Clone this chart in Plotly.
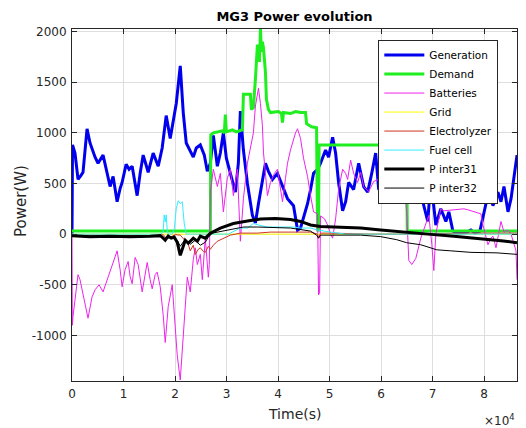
import plotly.graph_objects as go

# ---------------- data (time in s, power in W) ----------------
gen_t = [0, 100, 580, 1170, 1750, 2140, 2920, 3500, 4480, 5060, 6030, 6620, 7400, 7980, 8760, 9340,
         9730, 10510, 11090, 11680, 12650, 13230, 13820, 14400, 14790, 15760, 16350, 16740, 17510,
         18290, 19070, 19650, 20240, 21020, 21600, 22180, 22960, 23550, 24130, 24910, 25690, 26270,
         26860, 27440, 28220, 28800, 29390, 29970, 30750, 31720, 32300, 32690, 33280, 34060, 35030,
         35610, 36200, 36970, 37560, 38140, 38920, 39890, 40870, 41840, 43010, 43790, 44370, 45150,
         45730, 46320, 46900, 47680, 48260, 49230, 49820, 50600, 51180, 51760, 52540, 53130, 53710,
         54680, 55660, 56630, 57410, 58190, 58960, 59550, 60520, 61490, 62470, 63440, 64410, 65190,
         66160, 67140, 68110, 69080, 69670, 70640, 71610, 72590, 73170, 73950, 74730, 76480, 77450,
         78230, 79200, 79790, 80370, 80950, 81730, 82710, 83290, 83870, 84650, 85240, 85820, 86400]
gen_p = [0, 880, 800, 540, 580, 610, 1040, 900, 760, 700, 780, 650, 470, 570, 320, 450,
         510, 690, 640, 670, 380, 600, 780, 680, 610, 800, 720, 670, 850,
         1170, 945, 1100, 1290, 1660, 1200, 900, 820, 760, 850, 880, 780, 620,
         700, 975, 670, 800, 1000, 750, 600, 415, 700, 1215, 830, 500, 185,
         110, 300, 550, 700, 620, 540, 600, 470, 350, 280, 40, 60, 200,
         300, 440, 600, 640, 700, 830, 760, 955, 800, 510, 230, 320, 510,
         440, 700, 470, 415, 600, 800, 440, 500, 380, 415, 365, 380, 510,
         415, 320, 320, 125, 540, 90, 250, 125, 220, 30, 10, 15, 40,
         10, 30, 185, 300, 440, 280, 415, 320, 470, 220, 350, 570, 780]

dem_t = [0, 26860, 26950, 27440, 28410, 29190, 29580, 29770, 29970, 31140, 31910, 33080, 33280,
         34640, 34830, 35220, 35610, 36000, 36390, 36590, 36780, 36970, 37170, 37560, 37750, 38140,
         38530, 40090, 40670, 40870, 41060, 42420, 43400, 44370, 45340, 45540, 46510, 47480, 47680,
         47870, 47970, 65000, 65090, 86400]
dem_p = [30, 30, 980, 1000, 1010, 1020, 1000, 1180, 1010, 1030, 1010, 1030, 1380,
         1380, 1230, 1250, 1530, 1870, 1700, 2025, 1800, 1900, 1840, 1600, 1330, 1230,
         1200, 1210, 1190, 1100, 1200, 1190, 1210, 1200, 1200, 1090, 1060, 1050, 40,
         40, 880, 880, 30, 30]

bat_t = [0, 60, 195, 580, 1170, 1560, 2340, 3110, 3890, 4480, 5250, 6030, 7010, 7980, 8760, 9340,
         9730, 10310, 10900, 11290, 11680, 12260, 12840, 13620, 14600, 15180, 15570, 16150, 16540,
         17130, 17710, 18100, 18680, 19460, 20040, 20430, 21020, 21600, 22380, 22960, 23550, 23940,
         24330, 24910, 25300, 25880, 26470, 26660, 26860, 27440, 28220, 28800, 29390, 30160, 30750,
         31330, 32110, 32690, 33280, 34060, 34640, 35220, 35610, 36200, 36590, 36970, 37170, 37560,
         37950, 38530, 39310, 39890, 40480, 40870, 41450, 41840, 42420, 43010, 43400, 43790, 44370,
         44950, 45730, 46320, 46900, 47680, 47870, 48070, 48260, 49040, 49620, 50210, 50600, 51180,
         51760, 52540, 53130, 53520, 54100, 54680, 55460, 56050, 56630, 57600, 58580, 59550, 60520,
         61880, 62860, 63830, 64610, 65000, 65390, 65970, 66750, 67720, 68690, 69280, 69860, 70250,
         70640, 71030, 71610, 72200, 74140, 76090, 76870, 78420, 79400, 79790, 80760, 81340, 81730,
         82320, 83290, 83870, 84650, 85240, 86210, 86400]
bat_p = [0, -900, -810, -650, -400, -450, -650, -830, -620, -550, -500, -570, -425, -280, -165, -350,
         -520, -350, -270, -420, -490, -230, -300, -570, -280, -450, -540, -400, -375,
         -520, -800, -1070, -715, -500, -975, -1195, -1440, -975, -425, -570, -250, -135,
         -300, -200, -450, -40, -425, -300, 415, 640, 470, 600, 220, 550, 640,
         380, 640, -70, 350, 700, 850, 1000, 1265, 1440, 1290, 1070, 810, 600,
         380, 510, 600, 640, 450, 320, 550, 700, 830, 950, 1000, 1040, 945,
         750, 570, 380, 220, 200, -600, -580, 180, 150, 90, 0, -40, 150,
         440, 640, 600, 540, 730, 600, 510, 610, 470, 420, 520, 540, 560,
         600, 520, 540, 440, 200, -260, -300, -240, -40, 105, 185, -100, -360,
         0, 90, 250, 230, 240, 250, 240, 220, 200, 90, -105, -40, -20,
         -135, 125, 20, 40, 0, -165, -450]

grid_t = [0, 86400]
grid_p = [0, 0]

ely_t = [0, 5450, 11290, 17130, 17710, 18290, 19070, 20040, 21020, 21990, 22570, 22960, 23550,
         23940, 24520, 24910, 25490, 25880, 26470, 26860, 27440, 28220, 29390, 30750, 32690, 36000,
         38530, 46320, 47680, 47870, 48260, 50210, 57990, 67720, 75500, 86400]
ely_p = [-10, -10, -15, -15, -5, -40, -30, -5, -10, -60, -100, -165, -110,
         -200, -150, -135, -170, -180, -120, -150, -110, -70, -40, -10, 10, 10,
         20, 20, 0, -40, 10, 10, 0, 0, 10, 10]

fc_t = [0, 17320, 17710, 17900, 18100, 18290, 18490, 18680, 19460, 19850, 20240, 20630, 21020,
        21410, 21800, 22180, 30360, 31720, 32690, 34060, 35220, 36200, 37950, 43010, 44370, 46320,
        47680, 50210, 53130, 86400]
fc_p = [0, 0, 30, 190, 120, 190, 40, 0, 0, 50, 250, 330, 300,
        320, 100, 0, 0, 40, 60, 60, 105, 90, 70, 70, 60, 60,
        40, 20, 0, 0]

p31_t = [0, 3500, 7400, 11290, 15180, 17130, 17710, 18100, 18680, 19270, 19850, 20430, 21020,
         21410, 21990, 22570, 23550, 24330, 24910, 25880, 26860, 28800, 31330, 34060, 36590, 39500,
         42420, 44370, 46320, 48260, 52740, 56050, 59940, 65190, 69080, 74140, 78810, 83290, 86400]
p31_p = [-15, -25, -20, -25, -20, -15, -40, -60, -20, -40, -30, -80, -210,
         -150, -60, -90, -40, -70, -20, -40, 10, 60, 105, 130, 150, 155,
         145, 125, 90, 75, 70, 60, 40, 15, 0, -20, -40, -65, -85]

p32_t = [0, 17130, 18100, 19070, 20430, 21020, 21990, 22960, 23940, 24910, 25880, 26470, 27250,
         30160, 33280, 36000, 42420, 46320, 47480, 47870, 48260, 56050, 59940, 63050, 65000, 67720,
         70830, 73560, 77450, 82510, 86400]
p32_p = [-20, -20, -50, -30, -60, -120, -50, -100, -60, -110, -80, -30, 10,
         40, 70, 70, 60, 30, -10, -40, -10, -10, -25, -55, -85, -105,
         -155, -165, -180, -185, -200]

x_ticks = [0, 10000, 20000, 30000, 40000, 50000, 60000, 70000, 80000]
x_tick_labels = ["0", "1", "2", "3", "4", "5", "6", "7", "8"]
y_ticks = [-1000, -500, 0, 500, 1000, 1500, 2000]
y_tick_labels = ["-1000", "-500", "0", "500", "1000", "1500", "2000"]

# ---------------- figure ----------------
FONT = "DejaVu Sans"
series = [
    ("Generation", gen_t, gen_p, "#0000ee", 3),
    ("Demand", dem_t, dem_p, "#1fee1f", 3),
    ("Batteries", bat_t, bat_p, "#ee22ee", 1),
    ("Grid", grid_t, grid_p, "#ffff00", 1),
    ("Electrolyzer", ely_t, ely_p, "#cc3322", 1),
    ("Fuel cell", fc_t, fc_p, "#33eeff", 1),
    ("P inter31", p31_t, p31_p, "#000000", 3),
    ("P inter32", p32_t, p32_p, "#000000", 1),
]

fig = go.Figure()
for name, t, p, col, w in series:
    fig.add_trace(go.Scatter(x=t, y=p, mode="lines", name=name,
                             line=dict(color=col, width=w)))

axis_common = dict(
    showgrid=True, gridcolor="#dedede", gridwidth=1,
    showline=True, linecolor="#262626", linewidth=1, mirror="allticks",
    ticks="inside", ticklen=5, tickcolor="#262626",
    tickfont=dict(family=FONT, size=12, color="#262626"),
    zeroline=False,
)

# the page body adds an 8px offset, compensated in the margins
OFF = 8
fig.update_layout(
    width=526, height=428,
    margin=dict(l=72 - OFF, r=9 + OFF, t=29 - OFF, b=47 + OFF),
    paper_bgcolor="white", plot_bgcolor="white",
    font=dict(family=FONT, color="#262626"),
    title=dict(text="<b>MG3 Power evolution</b>", x=0.5, xref="paper", xanchor="center",
               y=1 - (16 - OFF) / 428, yanchor="middle",
               font=dict(family=FONT, size=13, color="#000000")),
    xaxis=dict(range=[0, 86400], tickvals=x_ticks, ticktext=x_tick_labels,
               ticklabelstandoff=2, **axis_common),
    yaxis=dict(range=[-1450, 2025], tickvals=y_ticks, ticktext=y_tick_labels,
               ticklabelstandoff=2, **axis_common),
    legend=dict(x=0.958, y=0.97, xanchor="right", yanchor="top", bgcolor="white",
                bordercolor="#262626", borderwidth=1,
                font=dict(family=FONT, size=10.5, color="#000000"),
                itemwidth=40, tracegroupgap=0),
    showlegend=True,
    annotations=[
        dict(text="Time(s)", xref="paper", yref="paper", x=0.5, y=-(414 - 381) / 352,
             xanchor="center", yanchor="middle", showarrow=False,
             font=dict(family=FONT, size=14, color="#262626")),
        dict(text="Power(W)", xref="paper", yref="paper", x=-(72 - 21) / 445, y=(381 - 201) / 352,
             xanchor="center", yanchor="middle", textangle=-90, showarrow=False,
             font=dict(family=FONT, size=15, color="#262626")),
        dict(text="\u00d710<sup>4</sup>", xref="paper", yref="paper", x=1.0, y=-(420 - 381) / 352,
             xanchor="right", yanchor="middle", showarrow=False,
             font=dict(family=FONT, size=12, color="#262626")),
    ],
)

fig.write_html("out.html")
